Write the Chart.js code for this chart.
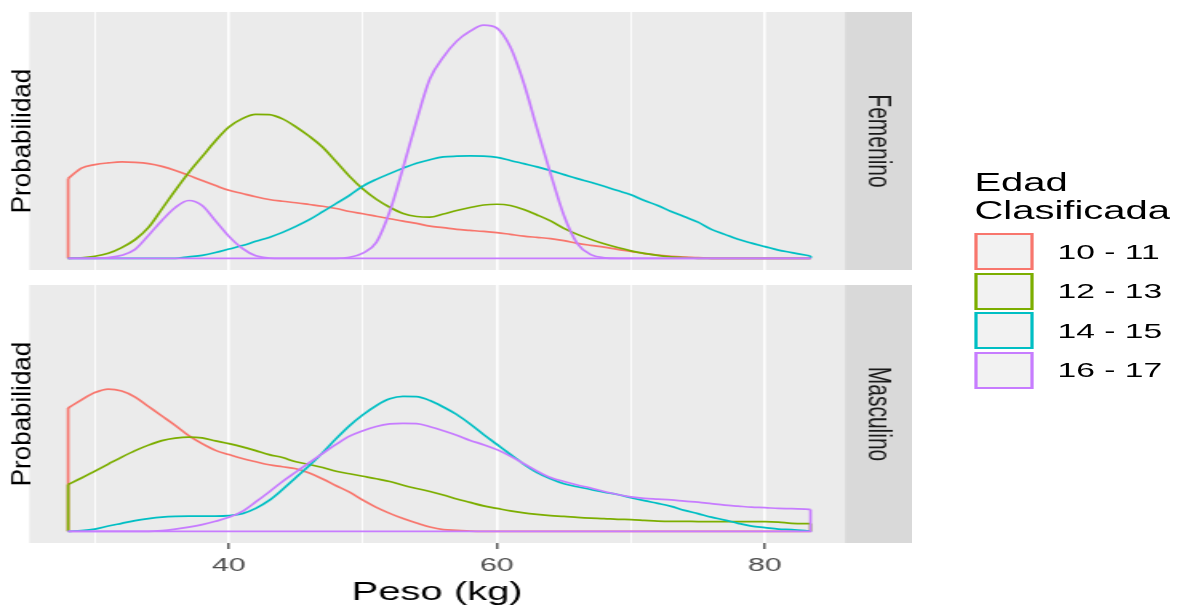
<!DOCTYPE html>
<html lang="es">
<head>
<meta charset="utf-8">
<title>Peso por edad clasificada</title>
<script src="https://cdn.jsdelivr.net/npm/chart.js@4.4.1/dist/chart.umd.min.js"></script>
<style>
  html, body { margin: 0; padding: 0; background: #ffffff; overflow: hidden; }
  /* the original picture is stretched sideways, so the whole figure is too */
  #figura { position: absolute; left: 0; top: 0; width: 740px; height: 610px;
            transform: scaleX(1.6); transform-origin: 0 0;
            font-family: "Liberation Sans", Arial, sans-serif; }
  #grafico_fem { position: absolute; left: 0; top: 0; }
  #grafico_mas { position: absolute; left: 0; top: 275px; }
  #leyenda { position: absolute; left: 609px; top: 168px; }
  #leyenda .titulo { font-size: 25px; line-height: 28px; color: #000; margin-bottom: 9px; }
  #leyenda .fila { display: flex; align-items: center; height: 37px; margin-bottom: 2.5px; }
  #leyenda .caja { display: block; width: 37px; height: 37px; box-sizing: border-box;
                   border: 2px solid; background: #f2f2f2; }
  #leyenda .texto { margin-left: 15px; font-size: 21px; color: #000; }
</style>
</head>
<body>
<div id="figura">
  <canvas id="grafico_fem" width="570" height="280"></canvas>
  <canvas id="grafico_mas" width="570" height="335"></canvas>
  <div id="leyenda"></div>
</div>
<script>
// peso (kg) where the densities were read
const pesos = [28, 29, 30, 31, 32, 33, 34, 35, 36, 37,
  38, 39, 40, 41, 42, 43, 44, 45, 46, 47,
  48, 49, 50, 51, 52, 53, 54, 55, 56, 57,
  58, 59, 60, 61, 62, 63, 64, 65, 66, 67,
  68, 69, 70, 71, 72, 73, 74, 75, 76, 77,
  78, 79, 80, 81, 82, 83, 83.4];

const grupos = ['10 - 11', '12 - 13', '14 - 15', '16 - 17'];
const colores = ['#F8766D', '#7CAE00', '#00BFC4', '#C77CFF'];
const tituloLeyenda = ['Edad', 'Clasificada'];
const marcasX = [30, 40, 50, 60, 70, 80];
const etiquetasX = [40, 60, 80];
const textoY = 'Probabilidad';

// Femenino
const fem_10_11 = [0.0320, 0.0362, 0.0376, 0.0383, 0.0387, 0.0385, 0.0380, 0.0369, 0.0353, 0.0333,
  0.0312, 0.0292, 0.0273, 0.0260, 0.0247, 0.0236, 0.0229, 0.0223, 0.0216, 0.0209,
  0.0200, 0.0188, 0.0179, 0.0169, 0.0159, 0.0149, 0.0140, 0.0129, 0.0123, 0.0116,
  0.0112, 0.0108, 0.0103, 0.0096, 0.0089, 0.0084, 0.0079, 0.0071, 0.0060, 0.0052,
  0.0045, 0.0036, 0.0028, 0.0019, 0.0013, 0.0008, 0.0005, 0.0003, 0, 0,
  0, 0, 0, 0, 0, 0, 0];
const fem_12_13 = [0, 0.0002, 0.0008, 0.0020, 0.0043, 0.0075, 0.0124, 0.0198, 0.0273, 0.0344,
  0.0408, 0.0472, 0.0527, 0.0561, 0.0578, 0.0577, 0.0560, 0.0528, 0.0490, 0.0446,
  0.0388, 0.0329, 0.0278, 0.0237, 0.0205, 0.0180, 0.0168, 0.0165, 0.0178, 0.0192,
  0.0204, 0.0214, 0.0217, 0.0212, 0.0196, 0.0174, 0.0150, 0.0120, 0.0096, 0.0076,
  0.0058, 0.0043, 0.0030, 0.0020, 0.0012, 0.0006, 0.0003, 0, 0, 0,
  0, 0, 0, 0, 0, 0, 0];
const fem_14_15 = [0, 0, 0, 0, 0, 0, 0, 0, 0, 0.0006,
  0.0012, 0.0023, 0.0037, 0.0051, 0.0068, 0.0084, 0.0104, 0.0128, 0.0155, 0.0187,
  0.0220, 0.0253, 0.0290, 0.0317, 0.0340, 0.0362, 0.0382, 0.0396, 0.0407, 0.0410,
  0.0411, 0.0410, 0.0405, 0.0393, 0.0380, 0.0367, 0.0352, 0.0336, 0.0320, 0.0305,
  0.0289, 0.0272, 0.0255, 0.0232, 0.0212, 0.0188, 0.0167, 0.0145, 0.0116, 0.0096,
  0.0076, 0.0061, 0.0047, 0.0033, 0.0023, 0.0013, 0.0009];
const fem_16_17 = [0, 0, 0, 0.0003, 0.0012, 0.0036, 0.0092, 0.0152, 0.0204, 0.0232,
  0.0212, 0.0150, 0.0088, 0.0040, 0.0010, 0.0001, 0, 0, 0, 0,
  0, 0.0004, 0.0021, 0.0064, 0.0188, 0.0364, 0.0552, 0.0721, 0.0808, 0.0872,
  0.0912, 0.0936, 0.0924, 0.0848, 0.0704, 0.0520, 0.0340, 0.0172, 0.0059, 0.0015,
  0.0002, 0, 0, 0, 0, 0, 0, 0, 0, 0,
  0, 0, 0, 0, 0, 0, 0];

// Masculino
const mas_10_11 = [0.0495, 0.0528, 0.0557, 0.0571, 0.0563, 0.0539, 0.0501, 0.0463, 0.0425, 0.0384,
  0.0352, 0.0325, 0.0308, 0.0292, 0.0279, 0.0267, 0.0259, 0.0251, 0.0234, 0.0210,
  0.0183, 0.0157, 0.0125, 0.0096, 0.0072, 0.0051, 0.0033, 0.0017, 0.0007, 0.0004,
  0.0001, 0, 0, 0, 0, 0, 0, 0, 0, 0,
  0, 0, 0, 0, 0, 0, 0, 0, 0, 0,
  0, 0, 0, 0, 0, 0, 0];
const mas_12_13 = [0.0188, 0.0214, 0.0242, 0.0270, 0.0298, 0.0324, 0.0346, 0.0364, 0.0374, 0.0378,
  0.0375, 0.0363, 0.0352, 0.0339, 0.0324, 0.0308, 0.0296, 0.0279, 0.0268, 0.0256,
  0.0241, 0.0231, 0.0221, 0.0211, 0.0200, 0.0185, 0.0172, 0.0160, 0.0146, 0.0130,
  0.0116, 0.0102, 0.0092, 0.0082, 0.0074, 0.0068, 0.0063, 0.0060, 0.0056, 0.0053,
  0.0051, 0.0048, 0.0047, 0.0044, 0.0041, 0.0040, 0.0040, 0.0039, 0.0039, 0.0039,
  0.0039, 0.0039, 0.0039, 0.0037, 0.0032, 0.0031, 0.0031];
const mas_14_15 = [0, 0.0003, 0.0009, 0.0021, 0.0032, 0.0043, 0.0051, 0.0057, 0.0060, 0.0061,
  0.0061, 0.0061, 0.0063, 0.0071, 0.0092, 0.0124, 0.0168, 0.0216, 0.0264, 0.0316,
  0.0372, 0.0424, 0.0468, 0.0505, 0.0532, 0.0542, 0.0541, 0.0525, 0.0499, 0.0469,
  0.0431, 0.0389, 0.0349, 0.0309, 0.0270, 0.0236, 0.0211, 0.0191, 0.0179, 0.0168,
  0.0157, 0.0148, 0.0135, 0.0123, 0.0112, 0.0100, 0.0084, 0.0071, 0.0057, 0.0045,
  0.0032, 0.0021, 0.0015, 0.0009, 0.0007, 0.0003, 0.0001];
const mas_16_17 = [0, 0, 0, 0, 0, 0, 0, 0.0003, 0.0009, 0.0017,
  0.0027, 0.0040, 0.0056, 0.0080, 0.0118, 0.0158, 0.0200, 0.0238, 0.0276, 0.0313,
  0.0349, 0.0382, 0.0404, 0.0421, 0.0431, 0.0433, 0.0432, 0.0420, 0.0404, 0.0386,
  0.0365, 0.0348, 0.0328, 0.0302, 0.0272, 0.0242, 0.0216, 0.0200, 0.0186, 0.0174,
  0.0160, 0.0148, 0.0138, 0.0132, 0.0129, 0.0126, 0.0121, 0.0117, 0.0111, 0.0105,
  0.0101, 0.0097, 0.0095, 0.0092, 0.0091, 0.0089, 0.0088];

const fuente = '"Liberation Sans", Arial, sans-serif';
const estiramiento = 1.6;
Chart.defaults.font.family = fuente;

// grey panel like ggplot
const fondoPanel = {
  id: 'fondoPanel',
  beforeDraw: function(chart) {
    const a = chart.chartArea;
    const ctx = chart.ctx;
    ctx.save();
    ctx.fillStyle = '#ebebeb';
    ctx.fillRect(a.left, a.top, a.right - a.left, a.bottom - a.top);
    ctx.restore();
  }
};

// y title: in the original it is not stretched, so undo the stretch here
const tituloY = {
  id: 'tituloY',
  afterDraw: function(chart) {
    const a = chart.chartArea;
    const ctx = chart.ctx;
    ctx.save();
    ctx.translate(14.4, (a.top + a.bottom) / 2);
    ctx.scale(1 / estiramiento, 1);
    ctx.rotate(-Math.PI / 2);
    ctx.font = '26px ' + fuente;
    ctx.fillStyle = '#000000';
    ctx.textAlign = 'center';
    ctx.textBaseline = 'middle';
    ctx.fillText(textoY, 0, 0);
    ctx.restore();
  }
};

// each density is an outline: the curve, its two ends and the base line
// (only the top group's base line shows, as in the original)
function series(datos) {
  const sets = [];
  datos.forEach(function(valores, i) {
    const ultimo = valores.length - 1;
    const borde = [{x: pesos[0], y: valores[0]}, {x: pesos[0], y: 0}];
    if (i < datos.length - 1) borde.push({x: pesos[1], y: null});
    borde.push({x: pesos[ultimo], y: 0}, {x: pesos[ultimo], y: valores[ultimo]});
    sets.push({
      data: pesos.map(function(p, k) { return {x: p, y: valores[k]}; }),
      xAxisID: 'x', yAxisID: 'y',
      borderColor: colores[i], borderWidth: 1.7, pointRadius: 0,
      cubicInterpolationMode: 'monotone', fill: false, order: 4 - i
    });
    sets.push({
      data: borde,
      xAxisID: 'x', yAxisID: 'y',
      borderColor: colores[i], borderWidth: 1.7, pointRadius: 0,
      tension: 0, fill: false, spanGaps: false, order: 4 - i
    });
  });
  return sets;
}

function esMayor(v) {
  return etiquetasX.indexOf(v) !== -1;
}

function panel(id, datos, sexo, conEjeX) {
  const ctx = document.getElementById(id).getContext('2d');
  return new Chart(ctx, {
    type: 'line',
    data: { datasets: series(datos) },
    options: {
      responsive: false,
      animation: false,
      events: [],
      layout: { padding: { top: conEjeX ? 10 : 12, bottom: 0, left: 0, right: 0 } },
      plugins: { legend: { display: false }, tooltip: { enabled: false } },
      scales: {
        x: {
          type: 'linear',
          min: 25.1,
          max: 85.97,
          afterBuildTicks: function(eje) {
            eje.ticks = marcasX.map(function(v) { return {value: v}; });
          },
          afterFit: function(eje) { eje.height = conEjeX ? 67 : 10; },
          grid: {
            color: '#ffffff',
            lineWidth: function(c) { return c.tick && esMayor(c.tick.value) ? 1.6 : 0.9; },
            drawTicks: conEjeX,
            tickLength: 6,
            tickWidth: 1.2,
            tickColor: function(c) { return c.tick && esMayor(c.tick.value) ? '#333333' : 'rgba(0,0,0,0)'; }
          },
          border: { display: false },
          ticks: {
            display: conEjeX,
            autoSkip: false,
            maxRotation: 0,
            color: '#4d4d4d',
            padding: 5,
            font: { size: 19 },
            callback: function(v) { return esMayor(v) ? String(v) : ''; }
          },
          title: {
            display: conEjeX,
            text: 'Peso (kg)',
            color: '#000000',
            font: { size: 25 },
            padding: { top: 0, bottom: 2 }
          }
        },
        y: {
          type: 'linear',
          position: 'left',
          min: -0.0047,
          max: 0.0989,
          afterFit: function(eje) { eje.width = 18.3; },
          grid: { display: false },
          border: { display: false },
          ticks: { display: false },
          title: { display: false }
        },
        tira: {
          axis: 'y',
          type: 'linear',
          position: 'right',
          backgroundColor: '#d9d9d9',
          afterFit: function(eje) { eje.width = 41.9; },
          grid: { display: false },
          border: { display: false },
          ticks: { display: false },
          title: {
            display: true,
            text: sexo,
            color: '#1a1a1a',
            font: { size: 21 },
            padding: { top: 8.4, bottom: 0 }
          }
        }
      }
    },
    plugins: [fondoPanel, tituloY]
  });
}

panel('grafico_fem', [fem_10_11, fem_12_13, fem_14_15, fem_16_17], 'Femenino', false);
panel('grafico_mas', [mas_10_11, mas_12_13, mas_14_15, mas_16_17], 'Masculino', true);

// legend
const leyenda = document.getElementById('leyenda');
let html = '<div class="titulo">' + tituloLeyenda.join('<br>') + '</div>';
grupos.forEach(function(g, i) {
  html += '<div class="fila"><span class="caja" style="border-color:' + colores[i] + '"></span>' +
          '<span class="texto">' + g + '</span></div>';
});
leyenda.innerHTML = html;
</script>
</body>
</html>
